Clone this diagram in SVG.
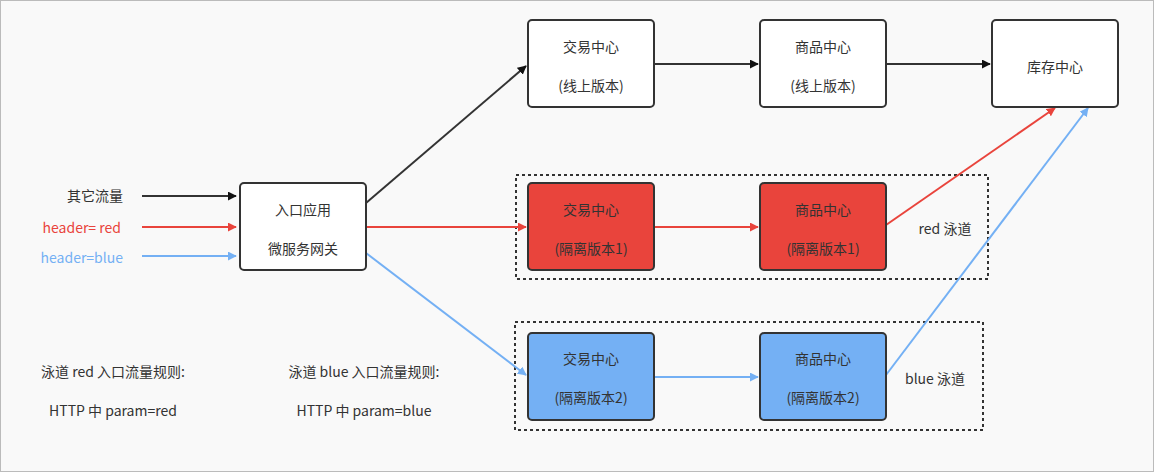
<svg xmlns="http://www.w3.org/2000/svg" width="1154" height="472" viewBox="0 0 1154 472">
<style>
text{font-family:"Noto Sans CJK SC","Liberation Sans",sans-serif;font-size:14px;fill:#333;text-anchor:middle}
.n{stroke:#333;stroke-width:2}
.l{fill:none;stroke-width:2}
.k{stroke:#333}.r{stroke:#e9443c}.b{stroke:#74b0f4}
.d{fill:none;stroke:#333;stroke-width:2;stroke-dasharray:3 3}
</style>
<defs>
<marker id="ak" viewBox="0 0 10 10" refX="9" refY="5" markerWidth="9" markerHeight="9" markerUnits="userSpaceOnUse" orient="auto"><path d="M0,0L10,5L0,10z" fill="#111"/></marker>
<marker id="ar" viewBox="0 0 10 10" refX="9" refY="5" markerWidth="9" markerHeight="9" markerUnits="userSpaceOnUse" orient="auto"><path d="M0,0L10,5L0,10z" fill="#e9443c"/></marker>
<marker id="ab" viewBox="0 0 10 10" refX="9" refY="5" markerWidth="9" markerHeight="9" markerUnits="userSpaceOnUse" orient="auto"><path d="M0,0L10,5L0,10z" fill="#74b0f4"/></marker>
</defs>
<rect x="0.5" y="0.5" width="1153" height="471" fill="#f9f9f9" stroke="#bbb"/>
<rect class="d" x="516" y="175" width="472" height="104"/>
<rect class="d" x="515" y="322" width="468" height="108"/>
<g id="connectors">
<path class="l k" d="M142,196H236" marker-end="url(#ak)" stroke="#111"/>
<path class="l r" d="M142,227H236" marker-end="url(#ar)"/>
<path class="l b" d="M142,256H236" marker-end="url(#ab)"/>
<path class="l k" d="M366,203L526,66" marker-end="url(#ak)"/>
<path class="l r" d="M366,227H526" marker-end="url(#ar)"/>
<path class="l b" d="M366,253L526,375" marker-end="url(#ab)"/>
<path class="l k" d="M654,64H758" marker-end="url(#ak)"/>
<path class="l k" d="M886,64H990" marker-end="url(#ak)"/>
<path class="l r" d="M654,227H758" marker-end="url(#ar)"/>
<path class="l b" d="M654,377H758" marker-end="url(#ab)"/>
<path class="l r" d="M886,225L1055,108" marker-end="url(#ar)"/>
<path class="l b" d="M886,375L1088,108" marker-end="url(#ab)"/>
</g>
<g id="gw"><rect class="n" x="240" y="183" width="126" height="87" rx="4" fill="#fff"/><text x="303" y="215">入口应用</text><text x="303" y="254">微服务网关</text></g>
<g id="t1"><rect class="n" x="528" y="20" width="126" height="87" rx="4" fill="#fff"/><text x="591" y="52">交易中心</text><text x="591" y="91">(线上版本)</text></g>
<g id="p1"><rect class="n" x="760" y="20" width="126" height="87" rx="4" fill="#fff"/><text x="823" y="52">商品中心</text><text x="823" y="91">(线上版本)</text></g>
<g id="s1"><rect class="n" x="992" y="20" width="126" height="87" rx="4" fill="#fff"/><text x="1055" y="72">库存中心</text></g>
<g id="t2"><rect class="n" x="528" y="183" width="126" height="87" rx="4" fill="#e9443c"/><text x="591" y="215">交易中心</text><text x="591" y="254">(隔离版本1)</text></g>
<g id="p2"><rect class="n" x="760" y="183" width="126" height="87" rx="4" fill="#e9443c"/><text x="823" y="215">商品中心</text><text x="823" y="254">(隔离版本1)</text></g>
<g id="t3"><rect class="n" x="528" y="333" width="126" height="87" rx="4" fill="#74b0f4"/><text x="591" y="364">交易中心</text><text x="591" y="403">(隔离版本2)</text></g>
<g id="p3"><rect class="n" x="760" y="333" width="126" height="87" rx="4" fill="#74b0f4"/><text x="823" y="364">商品中心</text><text x="823" y="403">(隔离版本2)</text></g>
<g id="labels">
<text x="123" y="201" style="text-anchor:end">其它流量</text>
<text x="121" y="233" style="text-anchor:end;fill:#e9443c">header= red</text>
<text x="123" y="263" style="text-anchor:end;fill:#74b0f4">header=blue</text>
<text x="945" y="234">red 泳道</text>
<text x="935" y="384">blue 泳道</text>
<text x="113" y="377">泳道 red 入口流量规则:</text>
<text x="113" y="416">HTTP 中 param=red</text>
<text x="364" y="377">泳道 blue 入口流量规则:</text>
<text x="364" y="416">HTTP 中 param=blue</text>
</g>
</svg>
